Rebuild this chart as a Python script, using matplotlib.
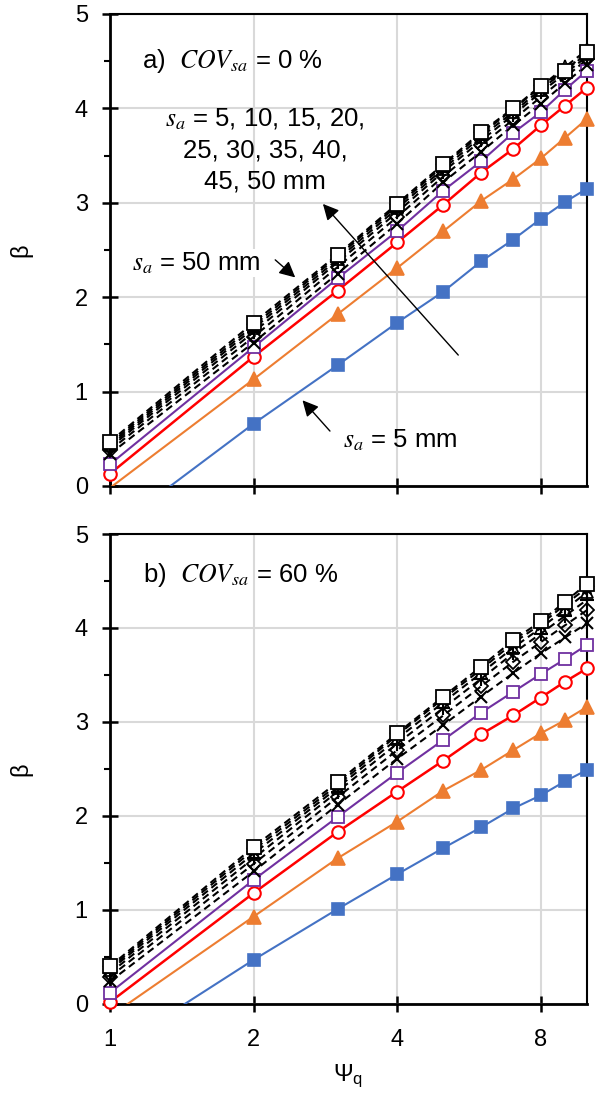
import numpy as np
import matplotlib
matplotlib.use("Agg")
import matplotlib.pyplot as plt
from matplotlib.ticker import FixedLocator, FixedFormatter, MultipleLocator, NullLocator

plt.rcParams['font.family'] = ['Liberation Sans', 'DejaVu Sans']
plt.rcParams['mathtext.fontset'] = 'stix'

psi = [1, 2, 3, 4, 5, 6, 7, 8, 9, 10]
sa_labels = ['5 mm', '10 mm', '15 mm', '20 mm', '25 mm', '30 mm', '35 mm', '40 mm', '45 mm', '50 mm']

# Panel a: COV_sa = 0 %
beta_a_5 = [-0.48, 0.66, 1.28, 1.73, 2.06, 2.38, 2.61, 2.83, 3.01, 3.15]
beta_a_10 = [-0.02, 1.13, 1.82, 2.31, 2.70, 3.02, 3.25, 3.47, 3.69, 3.89]
beta_a_15 = [0.13, 1.37, 2.07, 2.58, 2.98, 3.32, 3.57, 3.82, 4.03, 4.22]
beta_a_20 = [0.23, 1.47, 2.20, 2.70, 3.13, 3.44, 3.74, 3.96, 4.20, 4.40]
beta_a_25 = [0.34, 1.52, 2.25, 2.78, 3.22, 3.54, 3.82, 4.05, 4.27, 4.46]
beta_a_30 = [0.38, 1.58, 2.32, 2.85, 3.28, 3.61, 3.88, 4.12, 4.33, 4.52]
beta_a_35 = [0.41, 1.63, 2.37, 2.90, 3.33, 3.66, 3.93, 4.17, 4.37, 4.55]
beta_a_40 = [0.43, 1.67, 2.40, 2.94, 3.36, 3.70, 3.96, 4.20, 4.40, 4.58]
beta_a_45 = [0.45, 1.70, 2.43, 2.97, 3.39, 3.73, 3.99, 4.23, 4.44, 4.62]
beta_a_50 = [0.47, 1.73, 2.45, 2.99, 3.41, 3.75, 4.00, 4.24, 4.40, 4.60]

# Panel b: COV_sa = 60 %
beta_b_5 = [-0.51, 0.47, 1.01, 1.38, 1.66, 1.88, 2.08, 2.22, 2.37, 2.49]
beta_b_10 = [-0.13, 0.93, 1.55, 1.94, 2.27, 2.49, 2.70, 2.88, 3.02, 3.16]
beta_b_15 = [0.02, 1.18, 1.83, 2.26, 2.59, 2.87, 3.07, 3.26, 3.43, 3.57]
beta_b_20 = [0.12, 1.32, 1.99, 2.46, 2.81, 3.10, 3.32, 3.51, 3.67, 3.82]
beta_b_25 = [0.24, 1.41, 2.12, 2.61, 2.97, 3.27, 3.52, 3.73, 3.90, 4.05]
beta_b_30 = [0.29, 1.49, 2.20, 2.70, 3.07, 3.38, 3.64, 3.85, 4.03, 4.19]
beta_b_35 = [0.33, 1.55, 2.26, 2.77, 3.15, 3.46, 3.73, 3.94, 4.13, 4.30]
beta_b_40 = [0.36, 1.60, 2.30, 2.82, 3.21, 3.52, 3.79, 4.00, 4.20, 4.38]
beta_b_45 = [0.38, 1.64, 2.33, 2.86, 3.25, 3.56, 3.84, 4.04, 4.25, 4.43]
beta_b_50 = [0.40, 1.67, 2.36, 2.88, 3.27, 3.59, 3.87, 4.07, 4.28, 4.47]

series_a = [beta_a_5, beta_a_10, beta_a_15, beta_a_20, beta_a_25,
            beta_a_30, beta_a_35, beta_a_40, beta_a_45, beta_a_50]
series_b = [beta_b_5, beta_b_10, beta_b_15, beta_b_20, beta_b_25,
            beta_b_30, beta_b_35, beta_b_40, beta_b_45, beta_b_50]

xticks = [1, 2, 4, 8]
xticklabels = ['1', '2', '4', '8']

styles = [
    dict(color='#4472C4', marker='s', mfc='#4472C4', mec='#4472C4', ms=8.5, ls='-', lw=1.5),
    dict(color='#ED7D31', marker='^', mfc='#ED7D31', mec='#ED7D31', ms=9.5, ls='-', lw=1.5),
    dict(color='#FF0000', marker='o', mfc='white', mec='#FF0000', ms=9, ls='-', lw=1.8, mew=1.5),
    dict(color='#7030A0', marker='s', mfc='white', mec='#7030A0', ms=8.5, ls='-', lw=1.5, mew=1.3),
    dict(color='black', marker='x', mfc='none', mec='black', ms=9, ls='--', lw=1.5, mew=1.5),
    dict(color='black', marker='D', mfc='none', mec='black', ms=7, ls='--', lw=1.5, mew=1.3),
    dict(color='black', marker='+', mfc='none', mec='black', ms=10, ls='--', lw=1.5, mew=1.5),
    dict(color='black', marker='^', mfc='none', mec='black', ms=8, ls='--', lw=1.5, mew=1.3),
    dict(color='black', marker='*', mfc='none', mec='black', ms=10, ls='--', lw=1.5, mew=1.2),
    dict(color='black', marker='s', mfc='white', mec='black', ms=10, ls='--', lw=1.5, mew=1.3),
]

fig = plt.figure(figsize=(5.95, 10.97), dpi=100)
W, H = 595, 1097
ax_a = fig.add_axes([110 / W, 1 - 486 / H, 477 / W, 472 / H])
ax_b = fig.add_axes([110 / W, 1 - 1004 / H, 477 / W, 470 / H])

FS = 17
AFS = 18.5

def setup(ax, show_xlabels):
    ax.set_xscale('log', base=2)
    ax.set_xlim(1, 10)
    ax.set_ylim(0, 5)
    ax.xaxis.set_major_locator(FixedLocator(xticks))
    ax.xaxis.set_major_formatter(FixedFormatter(xticklabels))
    ax.xaxis.set_minor_locator(NullLocator())
    ax.yaxis.set_major_locator(MultipleLocator(1))
    ax.yaxis.set_minor_locator(MultipleLocator(0.5))
    ax.grid(True, which='major', color='#d9d9d9', lw=1.5, zorder=0)
    ax.set_axisbelow(True)
    ax.tick_params(axis='both', which='major', direction='inout', length=12, width=1.8,
                   labelsize=FS, color='black')
    ax.tick_params(axis='y', which='major', pad=10)
    ax.tick_params(axis='x', which='major', pad=12)
    ax.tick_params(axis='y', which='minor', direction='out', length=4, width=1.5)
    if not show_xlabels:
        ax.tick_params(axis='x', labelbottom=False)
    for side in ['left', 'bottom']:
        ax.spines[side].set_linewidth(2)
    for side in ['top', 'right']:
        ax.spines[side].set_linewidth(1.5)
    ax.set_ylabel('β', fontsize=FS)
    ax.yaxis.set_label_coords(-0.163, 0.5)

def draw(ax, series):
    for ys, st in zip(series, styles):
        st = dict(st)
        mk = st.pop('marker'); mfc = st.pop('mfc'); mec = st.pop('mec')
        ms = st.pop('ms'); mew = st.pop('mew', 1.2)
        ax.plot(psi, ys, color=st['color'], ls=st['ls'], lw=st['lw'],
                dashes=(3.5, 2.2) if st['ls'] == '--' else (None, None), zorder=3)
        yv = np.ma.masked_less(np.array(ys), 0)
        ax.plot(psi, yv, ls='none', marker=mk, mfc=mfc, mec=mec, ms=ms, mew=mew,
                clip_on=False, zorder=4)

setup(ax_a, False)
setup(ax_b, True)
draw(ax_a, series_a)
draw(ax_b, series_b)

ax_b.set_xlabel(r'$\mathregular{\Psi_q}$', fontsize=FS)
ax_b.xaxis.set_label_coords(0.5, -0.125)

# Panel a annotations
ax_a.text(0.067, 0.90, 'a)  $COV_{sa}$ = 0 %', transform=ax_a.transAxes,
          fontsize=AFS, ha='left', va='center')
ax_a.text(0.325, 0.712, '$s_a$ = 5, 10, 15, 20,\n25, 30, 35, 40,\n45, 50 mm',
          transform=ax_a.transAxes, fontsize=AFS, ha='center', va='center', linespacing=1.35)
ax_a.annotate('', xy=(2.77, 3.01), xycoords='data', xytext=(0.734, 0.273),
              textcoords='axes fraction',
              arrowprops=dict(arrowstyle='-|>', color='black', lw=1, mutation_scale=24))
ax_a.text(0.046, 0.472, '$s_a$ = 50 mm', transform=ax_a.transAxes,
          fontsize=AFS, ha='left', va='center',
          bbox=dict(facecolor='white', edgecolor='none', pad=1))
ax_a.annotate('', xy=(2.47, 2.19), xycoords='data', xytext=(0.342, 0.483),
              textcoords='axes fraction',
              arrowprops=dict(arrowstyle='-|>', color='black', lw=1, mutation_scale=24))
ax_a.text(0.488, 0.097, '$s_a$ = 5 mm', transform=ax_a.transAxes,
          fontsize=AFS, ha='left', va='center')
ax_a.annotate('', xy=(2.51, 0.93), xycoords='data', xytext=(0.465, 0.112),
              textcoords='axes fraction',
              arrowprops=dict(arrowstyle='-|>', color='black', lw=1, mutation_scale=24))

ax_b.text(0.069, 0.913, 'b)  $COV_{sa}$ = 60 %', transform=ax_b.transAxes,
          fontsize=AFS, ha='left', va='center')

fig.savefig('out.png', dpi=100, facecolor='white')
